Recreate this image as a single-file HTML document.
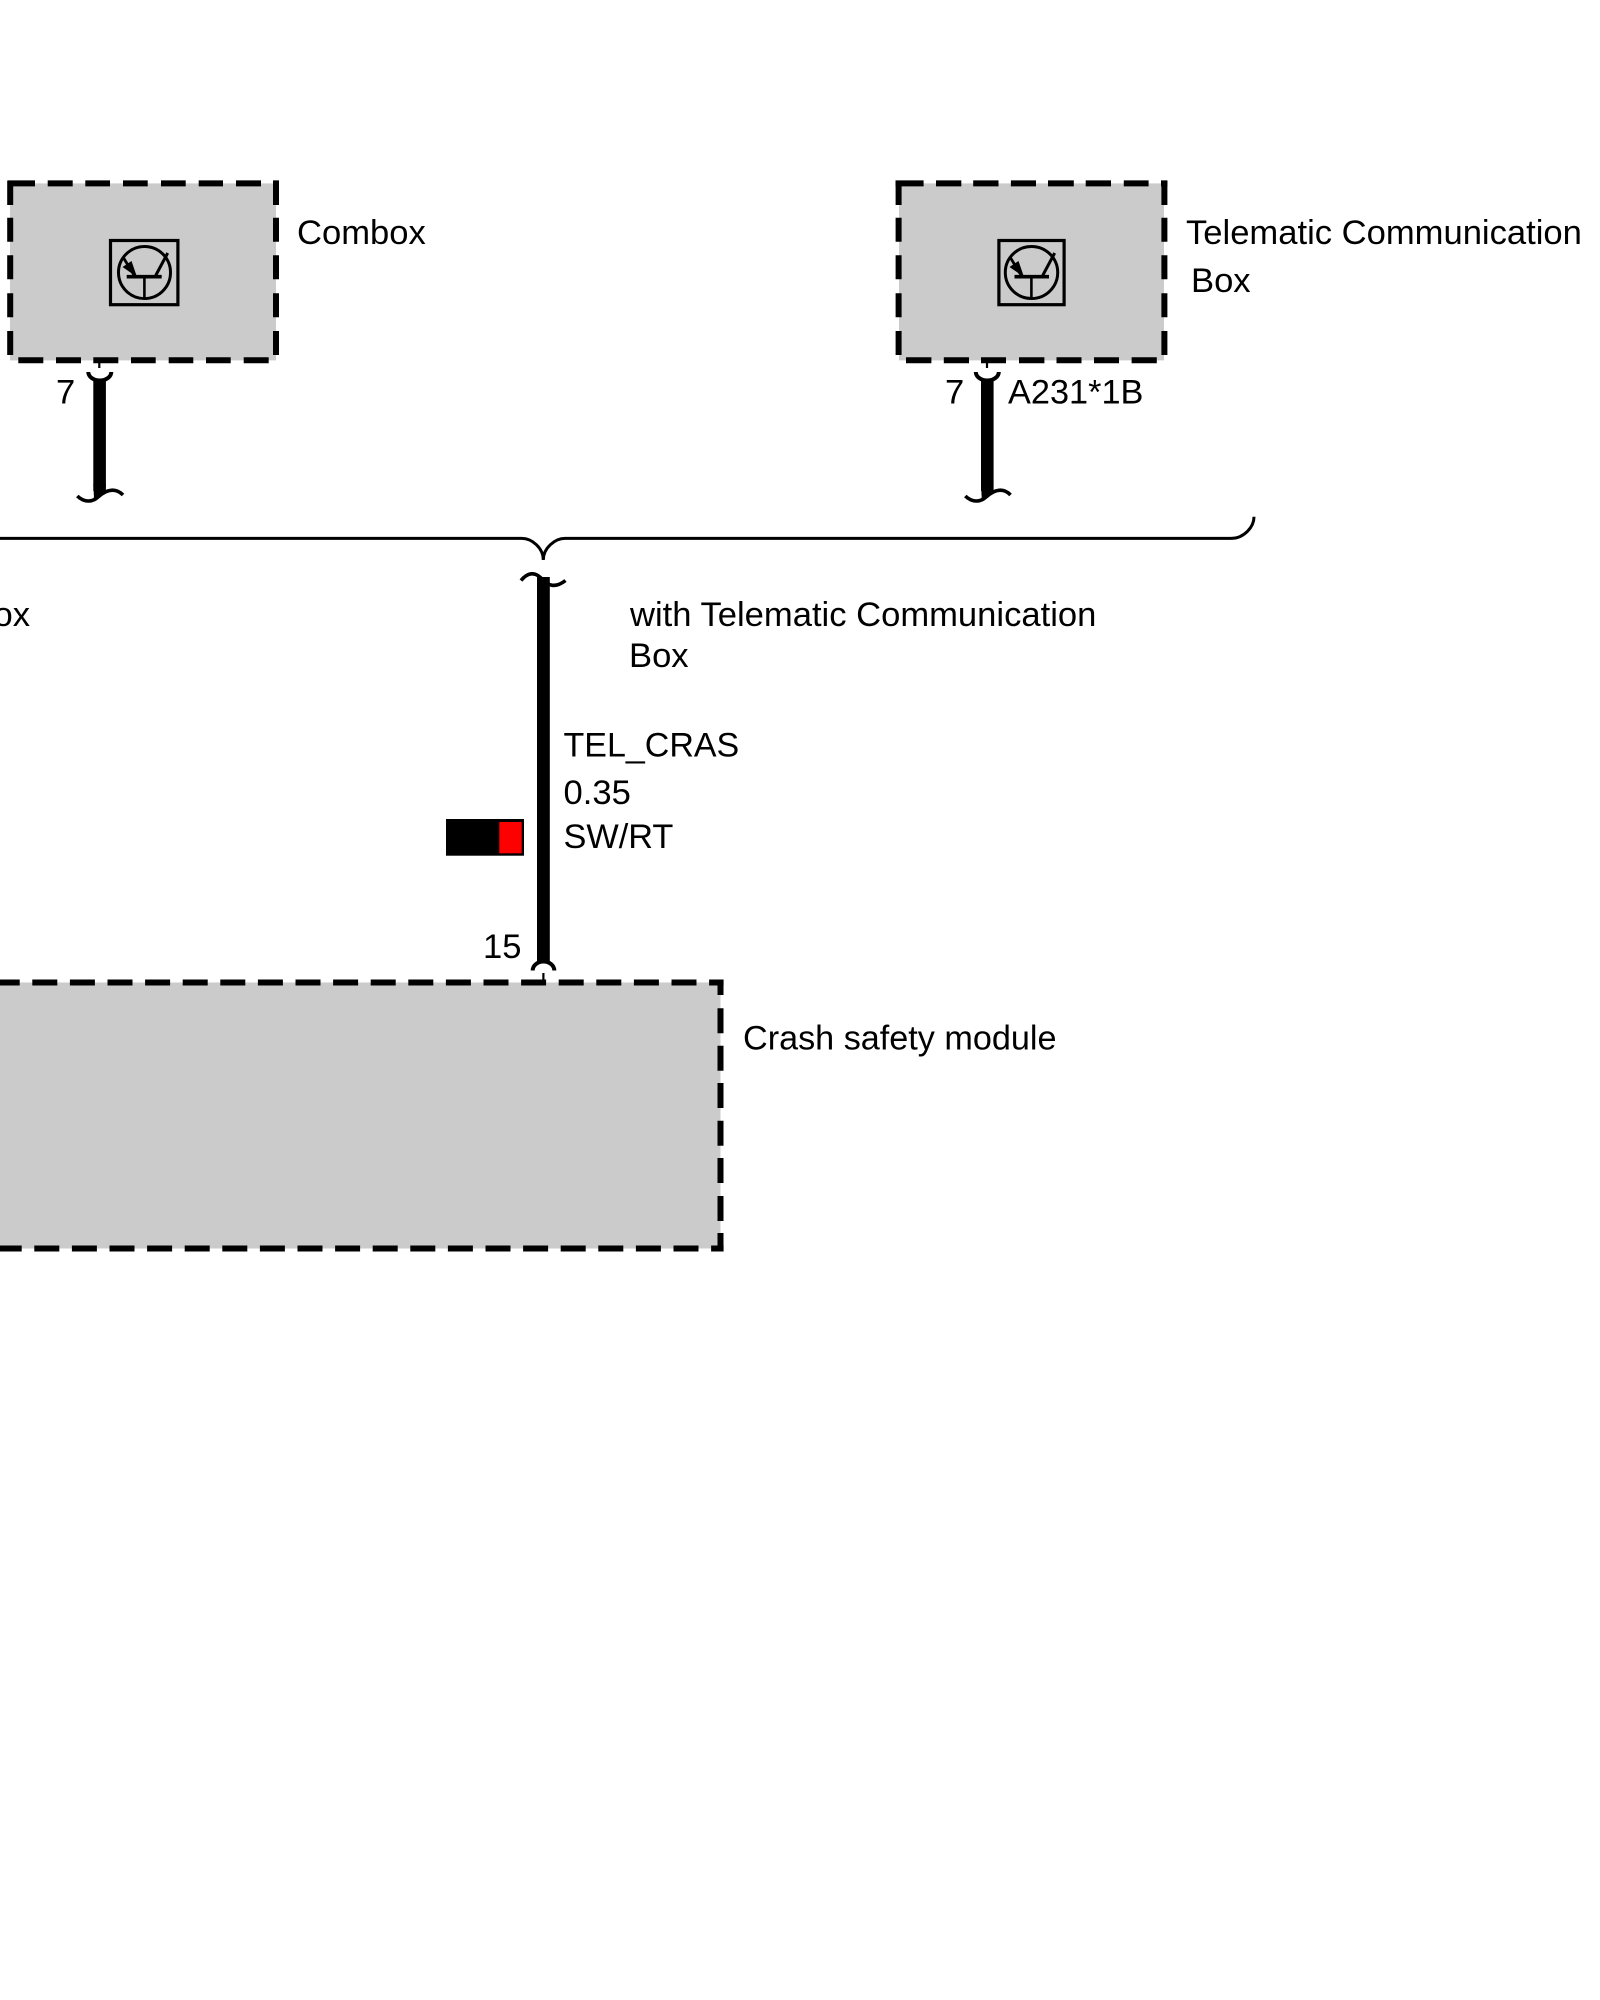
<!DOCTYPE html>
<html><head><meta charset="utf-8"><title>Diagram</title>
<style>html,body{margin:0;padding:0;background:#fff;width:1600px;height:2000px;overflow:hidden}svg{display:block}
text{font-family:"Liberation Sans",sans-serif;font-size:34.6px;fill:#000}</style></head>
<body>
<svg width="1600" height="2000" viewBox="0 0 1600 2000" xmlns="http://www.w3.org/2000/svg">
<rect width="1600" height="2000" fill="#fff"/>
<!-- fills -->
<rect x="10" y="183.4" width="266" height="177" fill="#cbcbcb"/>
<rect x="899" y="183.4" width="265" height="177" fill="#cbcbcb"/>
<rect x="0" y="982.5" width="720.5" height="266" fill="#cbcbcb"/>
<!-- box 1 dashes -->
<g fill="none" stroke="#000" stroke-width="6">
<path d="M7.5 183.4H35M47.7 183.4H72.7M85.3 183.4H110M123 183.4H147.7M161 183.4H185.7M198.7 183.4H223M236 183.4H261M273 183.4H279"/>
<path d="M10.2 180.7V205M10.2 217.7V241.7M10.2 255.3V279.3M10.2 293.3V317.3M10.2 331V355"/>
<path d="M276 180.7V205M276 217.7V241.7M276 255.3V279.3M276 293.3V317.3M276 331V355"/>
<path d="M18.3 360.2H43.3M56 360.2H81M93.3 360.2H118.3M131 360.2H155.7M168.7 360.2H193.3M206 360.2H230.7M243.7 360.2H268.7"/>
<!-- box 2 dashes -->
<path d="M895.5 183.4H923.6M936 183.4H961.3M973.2 183.4H998.5M1010.9 183.4H1036M1048 183.4H1073.8M1085.7 183.4H1111M1123.8 183.4H1148.6M1161 183.4H1167.4"/>
<path d="M898.6 180.7V205M898.6 217.7V241.7M898.6 255.3V279.3M898.6 293.3V317.3M898.6 331V355"/>
<path d="M1164.4 180.7V205M1164.4 217.7V241.7M1164.4 255.3V279.3M1164.4 293.3V317.3M1164.4 331V355"/>
<path d="M906 360.2H931.4M943.8 360.2H969M981 360.2H1006M1019 360.2H1044.4M1056.5 360.2H1081.5M1094 360.2H1119M1131.6 360.2H1156.8"/>
<!-- box 3 dashes -->
<path stroke-dasharray="25 12.6" d="M-5.3 982.5H723.6"/>
<path stroke-dasharray="25 12.6" d="M-3.3 1248.5H723.6"/>
<path d="M720.5 979.6V995M720.5 1008.3V1033.3M720.5 1045.7V1070.7M720.5 1083V1108M720.5 1120.7V1145.7M720.5 1158V1183M720.5 1196V1221M720.5 1233V1251.4"/>
</g>
<!-- icon 1 -->
<g fill="none" stroke="#000">
<rect x="110.5" y="240.5" width="67.4" height="64.2" stroke-width="3.2"/>
<circle cx="144.5" cy="272.5" r="26" stroke-width="3"/>
<path d="M126.7 276.7H161.7" stroke-width="3.6"/>
<path d="M144.4 276.7V298.5" stroke-width="2.6"/>
<path d="M155.7 275.5L167.7 253" stroke-width="3"/>
<path d="M123.3 257.5L134 275" stroke-width="2.8"/>
</g>
<path d="M122.5 267L131.5 261L137 277Z" fill="#000"/>
<!-- icon 2 -->
<g fill="none" stroke="#000">
<rect x="998.9" y="240.5" width="65.2" height="64.2" stroke-width="3.2"/>
<ellipse cx="1031.5" cy="272.5" rx="26.2" ry="26" stroke-width="3"/>
<path d="M1014.5 276.7H1049" stroke-width="3.6"/>
<path d="M1031.4 276.7V298.5" stroke-width="2.6"/>
<path d="M1042.7 275.5L1054.7 253" stroke-width="3"/>
<path d="M1010.3 257.5L1021 275" stroke-width="2.8"/>
</g>
<path d="M1009.5 267L1018.5 261L1024 277Z" fill="#000"/>
<!-- wires -->
<g fill="none" stroke="#000">
<!-- wire 1 -->
<path d="M99.3 363V368" stroke-width="2.2"/>
<path d="M88.3 372A11.5 8.5 0 0 0 111.3 372" stroke-width="4"/>
<rect x="93.3" y="379" width="12.6" height="112" fill="#000" stroke="none"/>
<path d="M93.3 484L94 498L105 492L106 484Z" fill="#000" stroke="none"/>
<path d="M77.3 496C84 502.5 92 502.5 98 497C106 490 115 487 123 495" stroke-width="3.6"/>
<!-- wire 2 -->
<path d="M987 363V368" stroke-width="2.2"/>
<path d="M975.8 372A11.5 8.5 0 0 0 998.8 372" stroke-width="4"/>
<rect x="981" y="379" width="12.6" height="112" fill="#000" stroke="none"/>
<path d="M981 484L981.7 498L992.7 492L993.6 484Z" fill="#000" stroke="none"/>
<path d="M965.3 496C972 502.5 980 502.5 986 497C994 490 1003 487 1010.5 495" stroke-width="3.6"/>
<!-- main wire -->
<rect x="537" y="577" width="12.8" height="386" fill="#000" stroke="none"/>
<path d="M521 580.5C528 572 535 572 541 578C548 586.5 556 588 565.5 580.5" stroke-width="3.6"/>
<path d="M532.7 970.5A10.8 9 0 0 1 554.3 970.5" stroke-width="4"/>
<path d="M543.4 973V982" stroke-width="2.2"/>
<!-- brace -->
<path d="M-2 538.4H521.7C532 538.4 543.3 548 543.3 560C543.3 548 555 538.4 565 538.4H1231C1244 538.4 1254 527 1254 516.7" stroke-width="3"/>
</g>
<!-- swatch -->
<rect x="446" y="819" width="78" height="36.7" fill="#000"/>
<rect x="499.3" y="822" width="22.4" height="31.3" fill="#f00"/>
<!-- labels -->
<text x="297" y="244">Combox</text>
<text x="1186" y="244">Telematic Communication</text>
<text x="1191" y="292">Box</text>
<text x="56" y="403.7">7</text>
<text x="945" y="403.7">7</text>
<text x="1008" y="403.7" style="font-size:34.3px">A231*1B</text>
<text x="30" y="626.2" text-anchor="end">ox</text>
<text x="630" y="626.2">with Telematic Communication</text>
<text x="629" y="667">Box</text>
<text x="563.5" y="756.5" style="font-size:34px">TEL_CRAS</text>
<text x="563.5" y="804">0.35</text>
<text x="563.5" y="848" style="font-size:34.3px">SW/RT</text>
<text x="483" y="958">15</text>
<text x="743" y="1049.3" style="font-size:34.2px">Crash safety module</text>
</svg>
</body></html>
